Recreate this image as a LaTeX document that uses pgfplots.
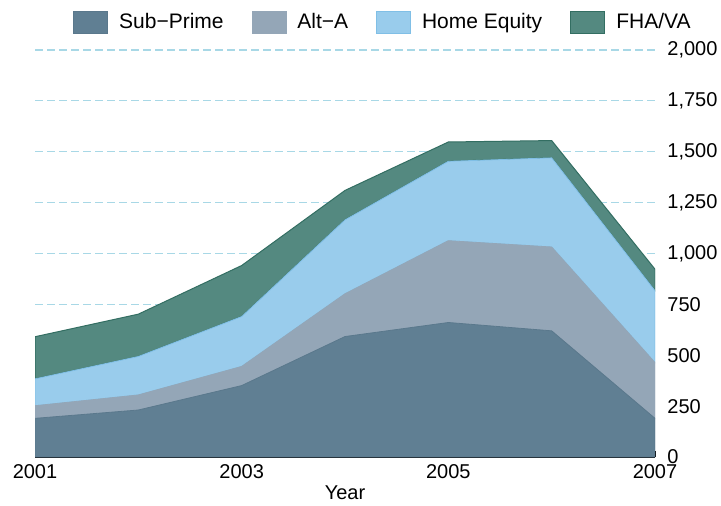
\documentclass[border=0pt]{standalone}
\usepackage{pgfplots}
\pgfplotsset{compat=1.18}
\usepackage{fontspec}
\setmainfont{Liberation Sans}
\definecolor{cSP}{HTML}{607F93}
\definecolor{cSPe}{HTML}{5A788C}
\definecolor{cAlt}{HTML}{94A6B7}
\definecolor{cHE}{HTML}{99CCEC}
\definecolor{cHEe}{HTML}{80BFE6}
\definecolor{cFHA}{HTML}{548980}
\definecolor{cFHAe}{HTML}{336E62}
\definecolor{cGrid}{HTML}{A8D8E6}
\begin{document}
\fontsize{10}{12}\selectfont
\begin{tikzpicture}
\useasboundingbox (-17.5pt,-24pt) rectangle (343pt,228.5pt);
\begin{axis}[
  at={(0,0)}, anchor=south west,
  scale only axis, width=310pt, height=203.5pt,
  xmin=2001, xmax=2007, ymin=0, ymax=2000,
  stack plots=y,
  axis x line*=bottom, axis y line*=right,
  y axis line style={draw=none},
  x axis line style={black, line width=0.6pt},
  xtick={2001,2003,2005,2007},
  xticklabels={2001,2003,2005,2007},
  ytick={0,250,...,2000},
  tick align=outside,
  major x tick style={black, line width=0.5pt, yshift=3pt},
  major tick length=3pt,
  major y tick style={draw=none},
  yticklabel style={anchor=west, xshift=3pt, inner xsep=0pt},
  xticklabel style={yshift=3pt},
  /pgf/number format/assume math mode=true,
  /pgf/number format/1000 sep={,},
  ymajorgrids,
  major grid style={cGrid, dash pattern=on 4pt off 2pt, line width=0.6pt},
  xlabel={Year},
  x label style={at={(axis description cs:0.5,-0.0885)}, anchor=center},
  tick label style={font=\fontsize{10}{12}\selectfont},
  legend columns=4,
  legend style={at={(0.0613,1.0688)}, anchor=west, draw=none, fill=none,
    inner sep=0pt, font=\fontsize{10.5}{12}\selectfont,
    nodes={inner sep=0pt, anchor=west},
    /tikz/every odd column/.append style={column sep=5.5pt},
    /tikz/every even column/.append style={column sep=14pt}},
  legend cell align=left,
  legend image code/.code={\draw[#1] (0pt,-5.5pt) rectangle (17pt,5.5pt);},
]
\addplot[fill=cSP, draw=cSPe, line width=0.4pt] coordinates {
(2001,190) (2002,231) (2003,351) (2004,592) (2005,661) (2006,620) (2007,190)
} \closedcycle;
\addlegendentry{Sub−Prime}
\addplot[fill=cAlt, draw=cAlt, line width=0.4pt] coordinates {
(2001,62) (2002,74) (2003,94) (2004,210) (2005,402) (2006,412) (2007,274)
} \closedcycle;
\addlegendentry{Alt−A}
\addplot[fill=cHE, draw=cHEe, line width=0.4pt] coordinates {
(2001,132) (2002,189) (2003,245) (2004,363) (2005,390) (2006,438) (2007,353)
} \closedcycle;
\addlegendentry{Home Equity}
\addplot[fill=cFHA, draw=cFHAe, line width=0.5pt] coordinates {
(2001,207) (2002,208) (2003,251) (2004,145) (2005,95) (2006,85) (2007,106)
} \closedcycle;
\addlegendentry{FHA/VA}
\end{axis}
\end{tikzpicture}
\end{document}
